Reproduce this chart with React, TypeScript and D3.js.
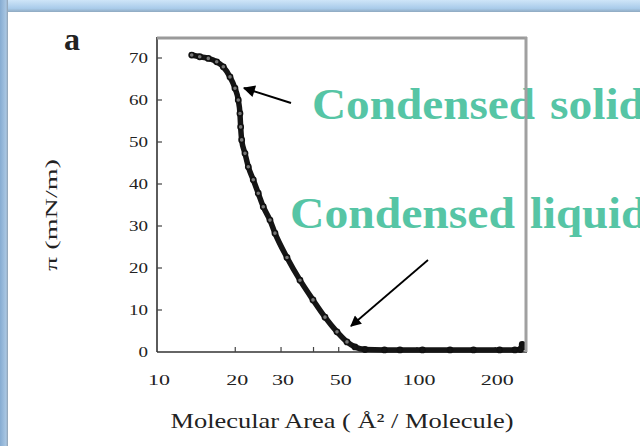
import React from "react";
import * as d3 from "d3";

const areaValues = [13.6, 14.6, 15.75, 16.97, 17.99, 19.09, 19.95, 20.54, 20.85, 20.98, 21.17, 21.8, 22.45, 23.46, 24.52, 25.63, 27.2, 28.43, 31.62, 35.48, 39.81, 44.28, 49.24, 53.8, 57.74, 63.1, 75, 86, 105, 134, 165, 208, 238, 250, 254, 257];
const piValues = [70.7, 70.3, 69.9, 69.1, 67.9, 65.5, 62.8, 60.0, 56.8, 53.6, 50.5, 47.3, 44.1, 41.0, 37.8, 34.6, 31.4, 28.3, 22.5, 17.1, 12.4, 8.3, 4.8, 2.4, 1.2, 0.6, 0.5, 0.5, 0.5, 0.5, 0.5, 0.5, 0.5, 0.6, 1.8, 1.2];

const xTicks = [10, 20, 30, 50, 100, 200];
const xTickMarks = [20, 30, 40, 50, 100, 200];
const yTicks = [0, 10, 20, 30, 40, 50, 60, 70];

const W = 640;
const H = 446;
const TEAL = "#56c5a5";
const SERIF = "'Liberation Serif', 'Times New Roman', serif";

export default function App() {
  const x = d3.scaleLog().domain([10, 265]).range([157, 527]);
  const y = d3.scaleLinear().domain([0, 75]).range([352, 37]);
  const pts = areaValues.map((a, i) => [a, piValues[i]] as [number, number]);
  const line = d3
    .line<[number, number]>()
    .x((d) => x(d[0]))
    .y((d) => y(d[1]))
    .curve(d3.curveMonotoneX);

  const x0 = x.range()[0];
  const x1 = x.range()[1];
  const y0 = y.range()[0];
  const y1 = y.range()[1];

  return (
    <svg width={W} height={H} style={{ position: "absolute", left: 0, top: 0, background: "#fff" }}>
      <defs>
        <linearGradient id="topBand" x1="0" y1="0" x2="0" y2="1">
          <stop offset="0" stopColor="#cfe5f8" />
          <stop offset="0.7" stopColor="#a9cbea" />
          <stop offset="1" stopColor="#8fa9c0" />
        </linearGradient>
        <linearGradient id="leftBand" x1="0" y1="0" x2="1" y2="0">
          <stop offset="0" stopColor="#86acd2" />
          <stop offset="0.75" stopColor="#a9c6e2" />
          <stop offset="1" stopColor="#8e9fb0" />
        </linearGradient>
        <marker id="arrowHead" viewBox="0 0 10 10" refX="9" refY="5" markerWidth="7" markerHeight="6" markerUnits="strokeWidth" orient="auto">
          <path d="M0,0 L10,5 L0,10 z" fill="#000" />
        </marker>
      </defs>

      {/* slide frame */}
      <rect x={0} y={0} width={W} height={12} fill="url(#topBand)" />
      <rect x={0} y={0} width={8} height={H} fill="url(#leftBand)" />

      {/* panel label */}
      <text x={72} y={50} textAnchor="middle" fontFamily={SERIF} fontWeight="bold" fontSize={32} fill="#222">
        a
      </text>

      {/* y axis */}
      <line x1={x0} x2={x0} y1={y1} y2={y0} stroke="#333" strokeWidth={1.6} />
      {yTicks.map((t) => (
        <g key={"y" + t}>
          {t > 0 && <line x1={x0} x2={x0 + 5} y1={y(t)} y2={y(t)} stroke="#444" strokeWidth={1.2} />}
          <text
            x={148}
            y={y(t) + 5}
            textAnchor="end"
            fontFamily={SERIF}
            fontSize={14}
            fill="#222"
            textLength={String(t).length * 9.5}
            lengthAdjust="spacingAndGlyphs"
          >
            {t}
          </text>
        </g>
      ))}
      <text
        transform={`translate(57,215) rotate(-90)`}
        textAnchor="middle"
        fontFamily={SERIF}
        fontSize={17}
        fill="#222"
        textLength={112}
        lengthAdjust="spacingAndGlyphs"
      >
        π (mN/m)
      </text>

      {/* x axis */}
      <line x1={x0} x2={x1} y1={y0} y2={y0} stroke="#333" strokeWidth={1.6} />
      {xTickMarks.map((t) => (
        <line key={"xt" + t} x1={x(t)} x2={x(t)} y1={y0} y2={y0 - 5} stroke="#444" strokeWidth={1.2} />
      ))}
      {xTicks.map((t) => (
        <text
          key={"xl" + t}
          x={x(t) + 2}
          y={385}
          textAnchor="middle"
          fontFamily={SERIF}
          fontSize={15}
          fill="#222"
          textLength={String(t).length * 11}
          lengthAdjust="spacingAndGlyphs"
        >
          {t}
        </text>
      ))}
      <text
        x={342}
        y={428}
        textAnchor="middle"
        fontFamily={SERIF}
        fontSize={21}
        fill="#222"
        textLength={343}
        lengthAdjust="spacingAndGlyphs"
      >
        Molecular Area ( Å² / Molecule)
      </text>

      {/* isotherm */}
      <path d={line(pts) || ""} fill="none" stroke="#151515" strokeWidth={5.5} strokeLinejoin="round" strokeLinecap="round" />
      {pts.map((d, i) => (
        <circle key={"p" + i} cx={x(d[0])} cy={y(d[1])} r={2.6} fill={d[1] > 2 ? "#777" : "#151515"} stroke="#111" strokeWidth={1.6} />
      ))}

      {/* annotations */}
      <text fontFamily={SERIF} fontWeight="bold" fontSize={45} fill={TEAL}>
        <tspan x={312} y={119} textLength={223} lengthAdjust="spacingAndGlyphs">Condensed</tspan>
        <tspan x={550} y={119} textLength={95} lengthAdjust="spacingAndGlyphs">solid</tspan>
      </text>
      <text fontFamily={SERIF} fontWeight="bold" fontSize={45} fill={TEAL}>
        <tspan x={290} y={228} textLength={225} lengthAdjust="spacingAndGlyphs">Condensed</tspan>
        <tspan x={530} y={228} textLength={117} lengthAdjust="spacingAndGlyphs">liquid</tspan>
      </text>
      <line x1={291} y1={103} x2={244} y2={88} stroke="#000" strokeWidth={2} markerEnd="url(#arrowHead)" />
      <line x1={428} y1={260} x2={351} y2={326} stroke="#000" strokeWidth={1.8} markerEnd="url(#arrowHead)" />

      {/* box top/right borders */}
      <line x1={x0} x2={x1} y1={y1 + 1} y2={y1 + 1} stroke="#9a9a9a" strokeWidth={3} />
      <line x1={x1 - 1} x2={x1 - 1} y1={y1} y2={y0} stroke="#a0a0a0" strokeWidth={3} />
    </svg>
  );
}
